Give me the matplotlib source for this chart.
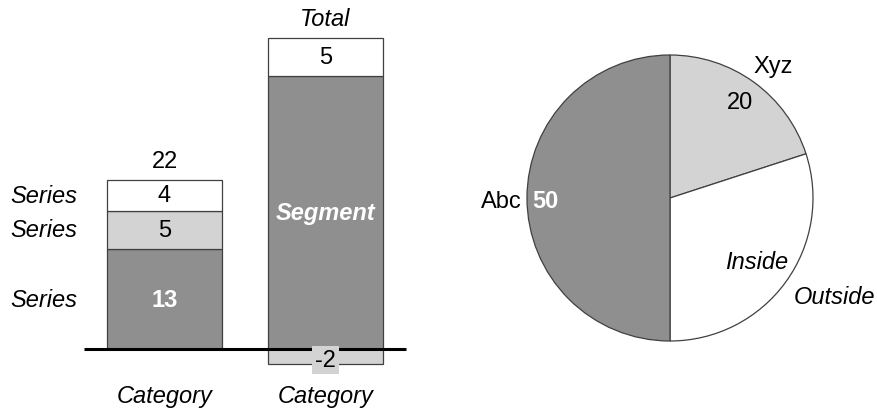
import numpy as np
import matplotlib
matplotlib.use("Agg")
import matplotlib.pyplot as plt

plt.rcParams['font.family'] = ['Liberation Sans', 'DejaVu Sans']

# Stacked column data
categories = ["Category", "Category"]
series_names = ["Series", "Series", "Series"]
col1_values = [13, 5, 4]          # bottom -> top
col2_positive = [35.5, 5]         # bottom -> top
col2_negative = [-2]
col2_labels = ["Segment", "5"]
total_label = "Total"

# Pie data
pie_values = [20, 30, 50]
pie_inner = ["20", "Inside", "50"]
pie_outer = ["Xyz", "Outside", "Abc"]

DARK = "#8f8f8f"
LIGHT = "#d3d3d3"
WHITE = "#ffffff"
EDGE = "#404040"
FS = 17

W, H = 877, 414
fig = plt.figure(figsize=(W / 100, H / 100), dpi=100)

# ---------- stacked columns ----------
ax = fig.add_axes([0, 0, 438.5 / W, 1])
ax.set_xlim(-1.022, 1.702)
ax.set_ylim(-64 / 7.68, 350 / 7.68)
ax.axis("off")

pos = np.arange(len(categories))
bw = 0.72

col1_colors = [DARK, LIGHT, WHITE]
bottom = 0
for v, c, name in zip(col1_values, col1_colors, series_names):
    ax.bar(pos[0], v, bw, bottom=bottom, color=c, edgecolor=EDGE, linewidth=0.9, zorder=2)
    mid = bottom + v / 2
    ax.text(pos[0], mid, str(v), ha="center", va="center", fontsize=FS,
            color="white" if c == DARK else "black",
            fontweight="bold" if c == DARK else "normal", zorder=5)
    ax.text(pos[0] - 0.54, mid, name, ha="right", va="center", fontsize=FS,
            style="italic", zorder=5)
    bottom += v
ax.annotate(str(sum(col1_values)), (pos[0], bottom), xytext=(0, 13.7),
            textcoords="offset points", ha="center", va="center", fontsize=FS)

col2_colors = [DARK, WHITE]
bottom = 0
for v, c, lab in zip(col2_positive, col2_colors, col2_labels):
    ax.bar(pos[1], v, bw, bottom=bottom, color=c, edgecolor=EDGE, linewidth=0.9, zorder=2)
    mid = bottom + v / 2
    if c == DARK:
        ax.text(pos[1], mid, lab, ha="center", va="center", fontsize=FS,
                color="white", fontweight="bold", style="italic", zorder=5)
    else:
        ax.text(pos[1], mid, lab, ha="center", va="center", fontsize=FS, zorder=5)
    bottom += v
ax.annotate(total_label, (pos[1], bottom), xytext=(0, 13.7),
            textcoords="offset points", ha="center", va="center", fontsize=FS,
            style="italic")

for v in col2_negative:
    ax.bar(pos[1], v, bw, bottom=0, color=LIGHT, edgecolor=EDGE, linewidth=0.9, zorder=2)
    ax.text(pos[1], v / 2 - 0.4, str(v), ha="center", va="center", fontsize=FS, zorder=6,
            bbox=dict(boxstyle="square,pad=0.12", fc=LIGHT, ec="none"))

ax.hlines(0, pos[0] - 0.5, pos[-1] + 0.5, color="black", linewidth=2.2, zorder=4)

for p, cat in zip(pos, categories):
    ax.text(p, -47 / 7.68, cat, ha="center", va="center", fontsize=FS, style="italic")

# ---------- pie ----------
cx, cy, r = 670, 199, 143
pax = fig.add_axes([(cx - r) / W, (H - cy - r) / H, 2 * r / W, 2 * r / H])
wedges, _ = pax.pie(pie_values, colors=[LIGHT, WHITE, DARK], startangle=90,
                    counterclock=False, radius=1,
                    wedgeprops=dict(edgecolor=EDGE, linewidth=0.9))
pax.set_xlim(-1, 1)
pax.set_ylim(-1, 1)
pax.set_aspect("auto")
pax.axis("off")


def polar(theta_deg, rad):
    t = np.deg2rad(theta_deg)
    return rad * np.cos(t), rad * np.sin(t)


inner_r = [0.83, 0.75, 0.87]
outer_r = [1.17, 1.34, 1.18]
inner_shift = [0, 0, 1]
outer_shift = [-2, 5, 1]
for w, inn, out, ri, ro, si, so in zip(wedges, pie_inner, pie_outer, inner_r, outer_r,
                                       inner_shift, outer_shift):
    mid = (w.theta1 + w.theta2) / 2
    x, y = polar(mid + si, ri)
    if w.get_facecolor()[0] < 0.7:
        pax.text(x, y, inn, ha="center", va="center", fontsize=FS, color="white",
                 fontweight="bold")
    elif inn == "Inside":
        pax.text(x, y, inn, ha="center", va="center", fontsize=FS, style="italic")
    else:
        pax.text(x, y, inn, ha="center", va="center", fontsize=FS)
    x, y = polar(mid + so, ro)
    if out == "Outside":
        pax.text(x, y, out, ha="center", va="center", fontsize=FS, style="italic")
    elif out == "Abc":
        pax.text(x, y, out, ha="center", va="center", fontsize=FS,
                 bbox=dict(boxstyle="square,pad=0.1", fc="white", ec="none"))
    else:
        pax.text(x, y, out, ha="center", va="center", fontsize=FS)

fig.savefig("out.png", dpi=100)
